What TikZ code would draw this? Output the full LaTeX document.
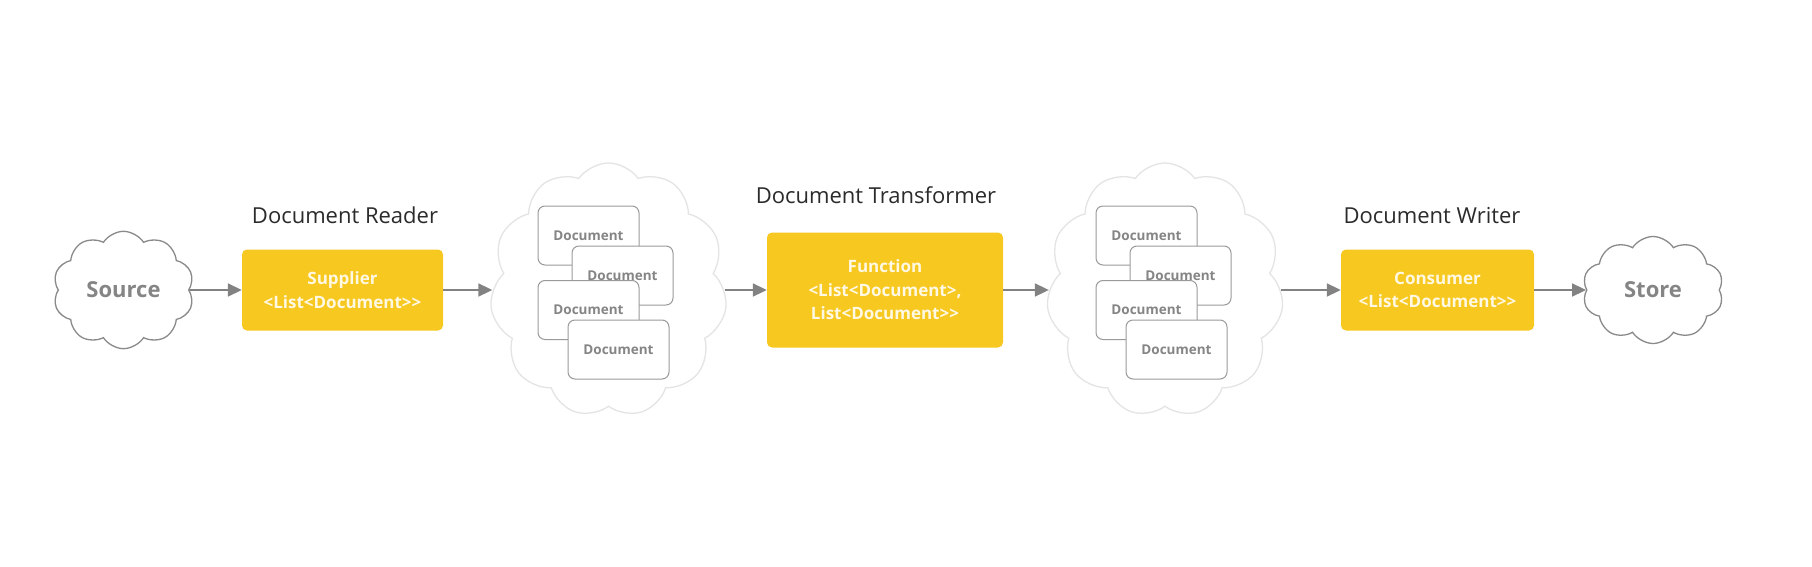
\documentclass[tikz,border=0pt]{standalone}
\usepackage{fontspec}
\setmainfont{Open Sans}[Ligatures=TeXOff]
\usetikzlibrary{shapes.symbols,arrows.meta}
\definecolor{yel}{HTML}{F7C820}
\definecolor{arrgray}{HTML}{828282}
\definecolor{cloudgray}{HTML}{8A8A8A}
\definecolor{lightcloud}{HTML}{E4E4E4}
\definecolor{docgray}{HTML}{9A9A9A}
\definecolor{doctext}{HTML}{858585}
\definecolor{titletext}{HTML}{2B2B2B}
\definecolor{boxtext}{HTML}{FFF8E2}
\newcommand{\lt}{\textless}
\newcommand{\gt}{\textgreater\kern0pt}
\tikzset{
  smallcloud/.style={cloud, cloud puffs=10, cloud puff arc=115, draw=cloudgray, line width=1.3pt,
     minimum width=141pt, minimum height=107pt, inner sep=0pt, text=doctext,
     font=\fontsize{22}{26}\selectfont\bfseries},
  bigcloud/.style={cloud, cloud puffs=11, cloud puff arc=110, draw=lightcloud, line width=1.3pt,
     minimum width=237pt, minimum height=254pt, inner sep=0pt},
  yelbox/.style={rectangle, rounded corners=5pt, fill=yel, text=boxtext, align=center,
     inner sep=0pt, font=\fontsize{17}{23.5}\selectfont\bfseries},
  docbox/.style={rectangle, rounded corners=7pt, draw=docgray, line width=1pt, fill=white,
     minimum width=101pt, minimum height=59pt, inner sep=0pt, text=doctext,
     font=\fontsize{13.5}{16}\selectfont\bfseries},
  title/.style={text=titletext, font=\fontsize{22}{26}\selectfont, inner sep=0pt},
  arr/.style={draw=arrgray, line width=1.8pt, -{Triangle[length=14pt,width=13pt]}},
}
\begin{document}
\begin{tikzpicture}[x=1pt,y=-1pt]
\useasboundingbox[fill=white] (0,0) rectangle (1812,567);
% left
\node[smallcloud] (src) at (123.5,290) {Source};
\node[yelbox, minimum width=201pt, minimum height=81pt] (sup) at (342.5,290) {Supplier\\\lt List\lt Document\gt\gt};
\node[title] (tread) at (345,215) {Document Reader};
% first document cloud
\node[bigcloud] (c1) at (608.5,290) {};
\node[docbox] (d1a) at (588.5,235.5) {Document};
\node[docbox] (d1b) at (622.5,275.5) {Document};
\node[docbox] (d1c) at (588.5,310) {Document};
\node[docbox] (d1d) at (618.5,349.5) {Document};
% transformer
\node[yelbox, minimum width=236pt, minimum height=115pt] (fn) at (885,290) {Function\\\lt List\lt Document\gt,\\List\lt Document\gt\gt};
\node[title] (ttrans) at (876,195) {Document Transformer};
% second document cloud
\node[bigcloud] (c2) at (1165,290) {};
\node[docbox] (d2a) at (1146.5,235.5) {Document};
\node[docbox] (d2b) at (1180.5,275.5) {Document};
\node[docbox] (d2c) at (1146.5,310) {Document};
\node[docbox] (d2d) at (1176.5,349.5) {Document};
% writer
\node[yelbox, minimum width=193pt, minimum height=81pt] (con) at (1437.5,290) {Consumer\\\lt List\lt Document\gt\gt};
\node[title] (twrite) at (1432,216) {Document Writer};
\node[smallcloud] (st) at (1653,290) {Store};
% connectors
\draw[arr] (src.east) -- (sup.west);
\draw[arr] (sup.east) -- (c1.west);
\draw[arr] (c1.east) -- (fn.west);
\draw[arr] (fn.east) -- (c2.west);
\draw[arr] (c2.east) -- (con.west);
\draw[arr] (con.east) -- (st.west);
\end{tikzpicture}
\end{document}
